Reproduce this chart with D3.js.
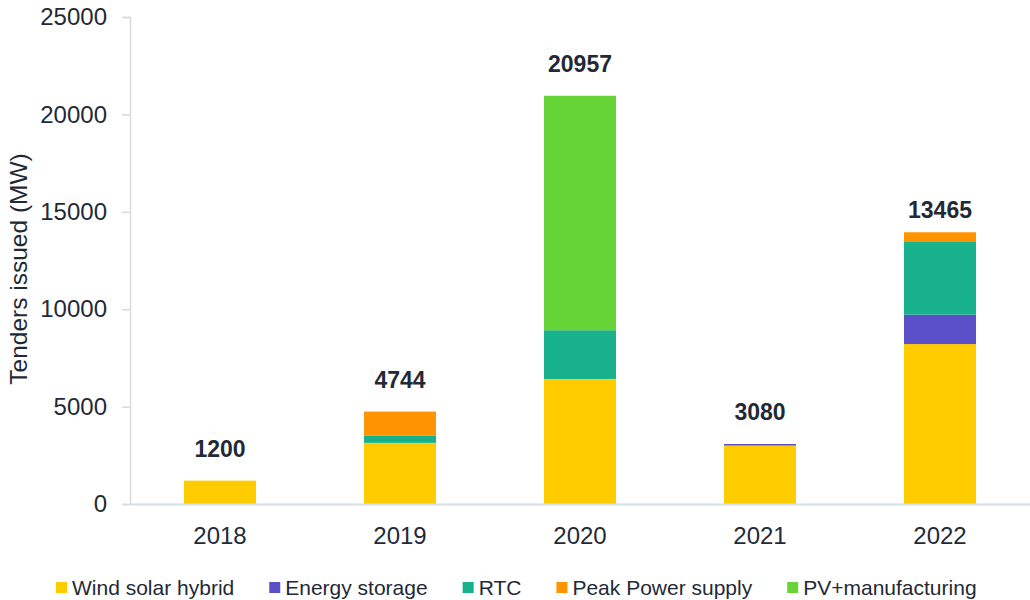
<!DOCTYPE html>
<html>
<head>
<meta charset="utf-8">
<script src="https://cdn.jsdelivr.net/npm/d3@7"></script>
<style>
  body { margin: 0; background: #fff; }
  svg text { font-family: "Liberation Sans", Arial, sans-serif; fill: #1f2a36; }
</style>
</head>
<body>
<script>
//Width and height
var w = 1030;
var h = 600;
var margin = { top: 17, right: 0, bottom: 96, left: 130 };

// data
const years = ["2018", "2019", "2020", "2021", "2022"];
const seriesNames = ["Wind solar hybrid", "Energy storage", "RTC", "Peak Power supply", "PV+manufacturing"];
const seriesColors = ["#FFCC00", "#5B4FC7", "#17B18C", "#FF9300", "#66D436"];
const windSolar = [1200, 3140, 6420, 3000, 8210];
const energyStorage = [0, 0, 0, 80, 1510];
const rtc = [0, 380, 2500, 0, 3730];
const peakPower = [0, 1224, 0, 0, 500];
const pvManufacturing = [0, 0, 12037, 0, 0];
const totalLabels = [1200, 4744, 20957, 3080, 13465];
const yTicks = [0, 5000, 10000, 15000, 20000, 25000];

const seriesValues = [windSolar, energyStorage, rtc, peakPower, pvManufacturing];
const table = years.map((y, i) => {
  const row = { year: y };
  seriesNames.forEach((s, j) => row[s] = seriesValues[j][i]);
  return row;
});
const stacked = d3.stack().keys(seriesNames)(table);

// scales
const xScale = d3.scaleBand()
                .domain(years)
                .range([margin.left, w - margin.right])
                .paddingInner(0.6)
                .paddingOuter(0.3);

const yScale = d3.scaleLinear()
                .domain([0, 25000])
                .range([h - margin.bottom, margin.top]);

const color = d3.scaleOrdinal().domain(seriesNames).range(seriesColors);

// create SVG element
const svg = d3.select("body")
              .append("svg")
                .attr("width", w)
                .attr("height", h);

// Y axis
const yAxis = svg.append("g")
  .attr("transform", `translate(${margin.left}, 0)`)
  .call(d3.axisLeft(yScale).tickValues(yTicks).tickFormat(d3.format("d")).tickSize(8).tickPadding(15));
yAxis.select(".domain").attr("stroke", "#d9d9d9").attr("stroke-width", 1.5);
yAxis.selectAll(".tick line").attr("stroke", "#d9d9d9").attr("stroke-width", 1.5);
yAxis.selectAll("text").attr("font-size", 24).attr("fill", "#1f2a36");

// bars
svg.append("g")
  .selectAll("g")
  .data(stacked)
  .enter()
  .append("g")
    .attr("fill", d => color(d.key))
  .selectAll("rect")
  .data(d => d)
  .enter()
  .append("rect")
    .attr("x", d => xScale(d.data.year))
    .attr("y", d => yScale(d[1]))
    .attr("width", xScale.bandwidth())
    .attr("height", d => yScale(d[0]) - yScale(d[1]));

// X axis
const xAxis = svg.append("g")
  .attr("transform", `translate(0, ${h - margin.bottom})`)
  .call(d3.axisBottom(xScale).tickSize(0).tickPadding(23));
xAxis.select(".domain").attr("stroke", "#d6dee8").attr("stroke-width", 2);
xAxis.selectAll("text").attr("font-size", 24).attr("fill", "#1f2a36");

// total labels
svg.append("g")
  .selectAll("text")
  .data(years)
  .enter()
  .append("text")
    .attr("x", d => xScale(d) + xScale.bandwidth() / 2)
    .attr("y", (d, i) => yScale(totalLabels[i]) - 24)
    .attr("text-anchor", "middle")
    .attr("font-size", 23)
    .attr("font-weight", "bold")
    .text((d, i) => totalLabels[i]);

// y axis title
svg.append("text")
  .attr("transform", `translate(27, 269) rotate(-90)`)
  .attr("text-anchor", "middle")
  .attr("font-size", 24.5)
  .text("Tenders issued (MW)");

// legend
const legend = svg.append("g").attr("transform", `translate(56, 582)`);
let lx = 0;
seriesNames.forEach((s, i) => {
  const item = legend.append("g").attr("transform", `translate(${lx}, 0)`);
  item.append("rect")
    .attr("x", 0).attr("y", 0)
    .attr("width", 11).attr("height", 11)
    .attr("fill", seriesColors[i]);
  const t = item.append("text")
    .attr("x", 16).attr("y", 13)
    .attr("font-size", 21)
    .text(s);
  lx += 16 + t.node().getComputedTextLength() + 35;
});
</script>
</body>
</html>
